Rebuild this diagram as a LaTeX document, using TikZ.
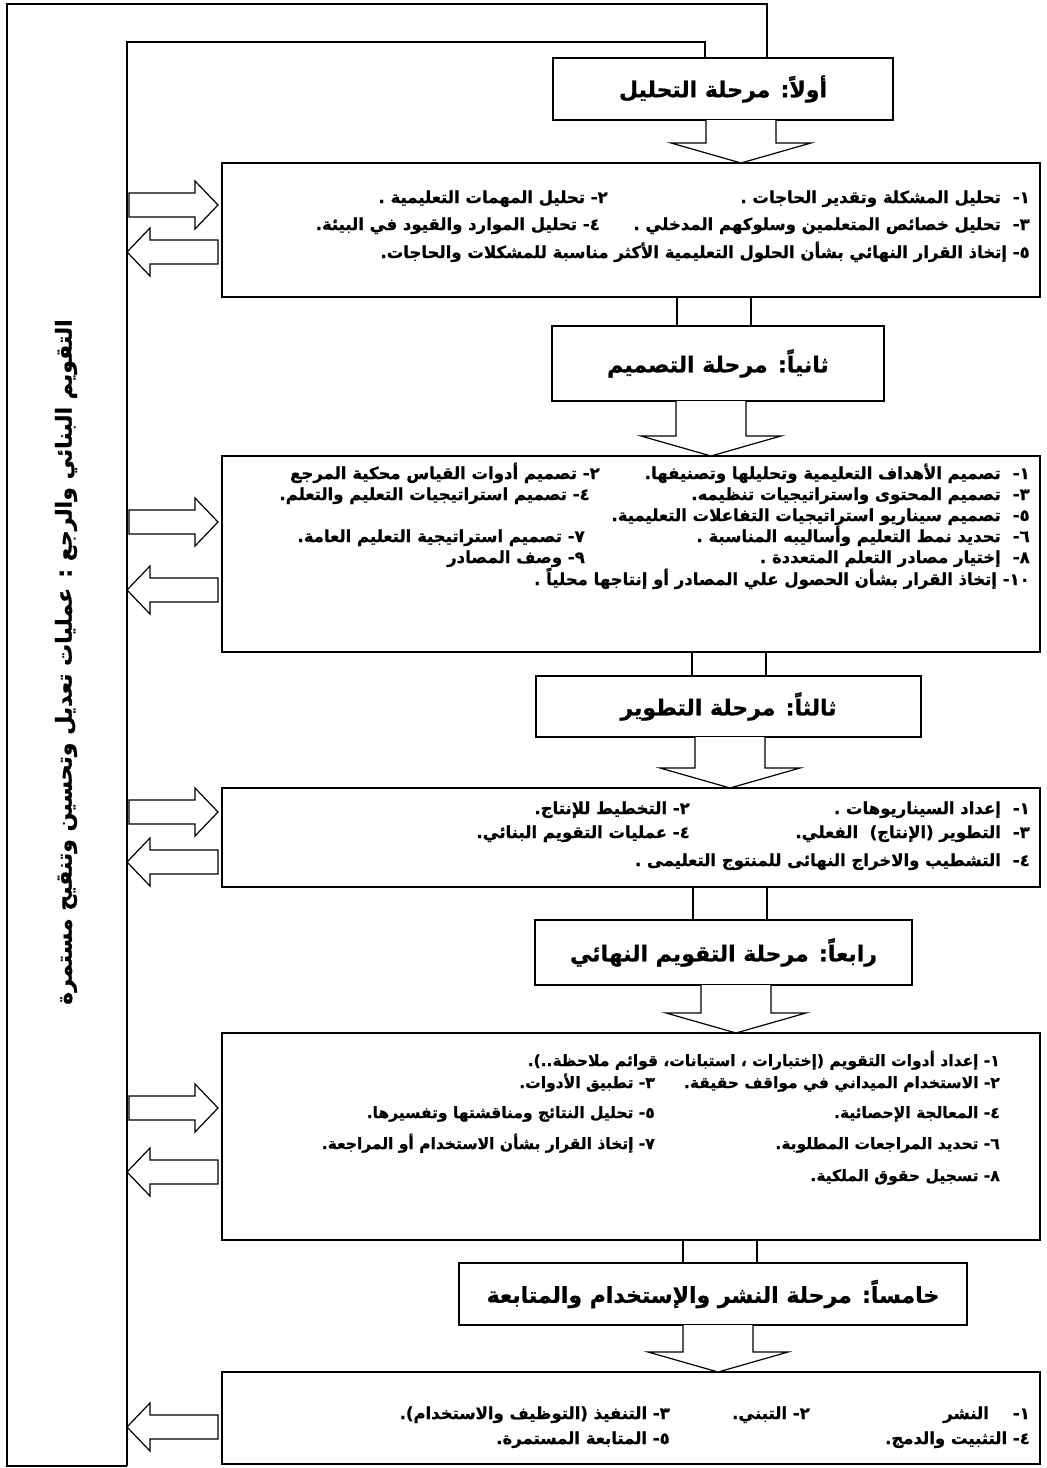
\documentclass[tikz,border=0pt]{standalone}
\usepackage{fontspec}
\newfontfamily\arabicfont[Script=Arabic, BoldFeatures={FakeBold=0.8}]{DejaVu Sans}
\TeXXeTstate=1
\usetikzlibrary{calc}
\newcommand\gp{\hspace{12pt}}
\tikzset{
  frameline/.style={line width=1.3pt},
  boxstyle/.style={draw, line width=1.6pt, fill=white, inner sep=0pt, outer sep=0pt, anchor=north west},
  hdr/.style={draw, line width=1.6pt, fill=white, inner sep=0pt, outer sep=0pt, anchor=north west,
    font=\arabicfont\bfseries\fontsize{22}{26}\selectfont},
  blk/.style={draw, line width=1.2pt, fill=white, line join=miter},
  itm/.style={anchor=base east, inner sep=0pt, font=\arabicfont\bfseries\fontsize{16.5}{19}\selectfont},
  itms/.style={itm, font=\arabicfont\bfseries\fontsize{15.5}{18}\selectfont},
  vlabel/.style={rotate=90, inner sep=0pt, font=\arabicfont\bfseries\fontsize{22}{26}\selectfont},
}
\newcommand\itm[4]{\node[itm] (#1) at (#2,#3+6) {#4};}
\newcommand\itms[4]{\node[itms] (#1) at (#2,#3+6) {#4};}
% down block arrow: top node, bottom node, x-centre coordinate
\newcommand\blkdown[3]{%
  \draw[blk] ($(#1.south -| #3)+(-35,0)$) -- ($(#2.north -| #3)+(-35,-20)$) -- ($(#2.north -| #3)+(-70,-20)$)
    -- (#2.north -| #3) -- ($(#2.north -| #3)+(70,-20)$) -- ($(#2.north -| #3)+(35,-20)$) -- ($(#1.south -| #3)+(35,0)$);}
% stem between box and next header
\newcommand\blkstem[3]{%
  \draw[blk] ($(#1.south -| #3)+(-37,0)$) rectangle ($(#2.north -| #3)+(37,0)$);}
% right-pointing block arrow from frame coordinate to box
\newcommand\blkright[2]{%
  \draw[blk] ($(#1)+(2,-12)$) -- ($(#1 -| #2.west)+(-27,-12)$) -- ($(#1 -| #2.west)+(-27,-24)$)
    -- ($(#1 -| #2.west)+(-4,0)$) -- ($(#1 -| #2.west)+(-27,24)$) -- ($(#1 -| #2.west)+(-27,12)$)
    -- ($(#1)+(2,12)$) -- cycle;}
% left-pointing block arrow from box to frame coordinate
\newcommand\blkleft[2]{%
  \draw[blk] (#1) -- ($(#1)+(23,-24)$) -- ($(#1)+(23,-12)$) -- ($(#1 -| #2.west)+(-4,-12)$)
    -- ($(#1 -| #2.west)+(-4,12)$) -- ($(#1)+(23,12)$) -- ($(#1)+(23,24)$) -- cycle;}
\begin{document}
\begin{tikzpicture}[x=1pt,y=-1pt]
\useasboundingbox (0,0) rectangle (1047,1468);
\fill[white] (0,0) rectangle (1047,1468);

% headers
\node[hdr, minimum width=340pt, minimum height=62pt] (h1) at (553,58) {\beginR أولاً: مرحلة التحليل\endR};
\node[hdr, minimum width=332pt, minimum height=75pt] (h2) at (552,326) {\beginR ثانياً: مرحلة التصميم\endR};
\node[hdr, minimum width=385pt, minimum height=61pt] (h3) at (536,676) {\beginR ثالثاً: مرحلة التطوير\endR};
\node[hdr, minimum width=377pt, minimum height=65pt] (h4) at (535,920) {\beginR رابعاً: مرحلة التقويم النهائي\endR};
\node[hdr, minimum width=508pt, minimum height=62pt] (h5) at (459,1263) {\beginR خامساً: مرحلة النشر والإستخدام والمتابعة\endR};

% content boxes
\node[boxstyle, minimum width=818pt, minimum height=134pt] (b1) at (222,163) {};
\node[boxstyle, minimum width=818pt, minimum height=196pt] (b2) at (222,456) {};
\node[boxstyle, minimum width=818pt, minimum height=99pt] (b3) at (222,788) {};
\node[boxstyle, minimum width=818pt, minimum height=207pt] (b4) at (222,1033) {};
\node[boxstyle, minimum width=818pt, minimum height=92pt] (b5) at (222,1372) {};

% frame coordinates
\coordinate (ofr) at (767,4);
\coordinate (ifr) at (705,42);
\coordinate (ol) at (7,4);
\coordinate (il) at (127,42);
\coordinate (bot) at (7,1466);

\draw[frameline] (h1.north -| ofr) -- (ofr) -- (ol) -- (bot) -- (bot -| il);
\draw[frameline] (h1.north -| ifr) -- (ifr) -- (il) -- (bot -| il);

% arrow centre x coordinates
\coordinate (c1) at (741,0);
\coordinate (c2) at (711,0);
\coordinate (c3) at (730,0);
\coordinate (c4) at (736,0);
\coordinate (c5) at (718,0);
\coordinate (s1) at (714,0);
\coordinate (s2) at (729,0);
\coordinate (s3) at (730,0);
\coordinate (s4) at (720,0);

\blkdown{h1}{b1}{c1}
\blkstem{b1}{h2}{s1}
\blkdown{h2}{b2}{c2}
\blkstem{b2}{h3}{s2}
\blkdown{h3}{b3}{c3}
\blkstem{b3}{h4}{s3}
\blkdown{h4}{b4}{c4}
\blkstem{b4}{h5}{s4}
\blkdown{h5}{b5}{c5}

% side arrows
\coordinate (r1) at (127,205);  \blkright{r1}{b1}
\coordinate (l1) at (127,252);  \blkleft{l1}{b1}
\coordinate (r2) at (127,522);  \blkright{r2}{b2}
\coordinate (l2) at (127,590);  \blkleft{l2}{b2}
\coordinate (r3) at (127,812);  \blkright{r3}{b3}
\coordinate (l3) at (127,862);  \blkleft{l3}{b3}
\coordinate (r4) at (127,1108); \blkright{r4}{b4}
\coordinate (l4) at (127,1172); \blkleft{l4}{b4}
\coordinate (l5) at (127,1427); \blkleft{l5}{b5}

% vertical label
\node[vlabel] (vl) at (66,662) {\beginR التقويم البنائي والرجع : عمليات تعديل وتحسين وتنقيح مستمرة\endR};

% box 1 text
\itm{t11}{1030}{197}{\beginR ١-\gp تحليل المشكلة وتقدير الحاجات .\endR}
\itm{t12}{608}{197}{\beginR ٢- تحليل المهمات التعليمية .\endR}
\itm{t13}{1030}{224}{\beginR ٣-\gp تحليل خصائص المتعلمين وسلوكهم المدخلي .\endR}
\itm{t14}{600}{224}{\beginR ٤- تحليل الموارد والقيود في البيئة.\endR}
\itm{t15}{1030}{252}{\beginR ٥- إتخاذ القرار النهائي بشأن الحلول التعليمية الأكثر مناسبة للمشكلات والحاجات.\endR}

% box 2 text
\itm{t21}{1030}{473}{\beginR ١-\gp تصميم الأهداف التعليمية وتحليلها وتصنيفها.\endR}
\itm{t22}{600}{473}{\beginR ٢- تصميم أدوات القياس محكية المرجع\endR}
\itm{t23}{1030}{494}{\beginR ٣-\gp تصميم المحتوى واستراتيجيات تنظيمه.\endR}
\itm{t24}{590}{494}{\beginR ٤- تصميم استراتيجيات التعليم والتعلم.\endR}
\itm{t25}{1030}{515}{\beginR ٥-\gp تصميم سيناريو استراتيجيات التفاعلات التعليمية.\endR}
\itm{t26}{1030}{536}{\beginR ٦-\gp تحديد نمط التعليم وأساليبه المناسبة .\endR}
\itm{t27}{585}{536}{\beginR ٧- تصميم استراتيجية التعليم العامة.\endR}
\itm{t28}{1030}{557}{\beginR ٨-\gp إختيار مصادر التعلم المتعددة .\endR}
\itm{t29}{585}{557}{\beginR ٩- وصف المصادر\endR}
\itm{t2a}{1030}{579}{\beginR ١٠- إتخاذ القرار بشأن الحصول علي المصادر أو إنتاجها محلياً .\endR}

% box 3 text
\itm{t31}{1030}{808}{\beginR ١-\gp إعداد السيناريوهات .\endR}
\itm{t32}{690}{808}{\beginR ٢- التخطيط للإنتاج.\endR}
\itm{t33}{1030}{832}{\beginR ٣-\gp التطوير (الإنتاج)\ \ الفعلي.\endR}
\itm{t34}{690}{832}{\beginR ٤- عمليات التقويم البنائي.\endR}
\itm{t35}{1030}{860}{\beginR ٤-\gp التشطيب والاخراج النهائى للمنتوج التعليمى .\endR}

% box 4 text
\itms{t41}{1000}{1060}{\beginR ١- إعداد أدوات التقويم (إختبارات ، استبانات، قوائم ملاحظة..).\endR}
\itms{t42}{1000}{1082}{\beginR ٢- الاستخدام الميداني في مواقف حقيقة.\endR}
\itms{t43}{655}{1082}{\beginR ٣- تطبيق الأدوات.\endR}
\itms{t44}{1000}{1112}{\beginR ٤- المعالجة الإحصائية.\endR}
\itms{t45}{655}{1112}{\beginR ٥- تحليل النتائج ومناقشتها وتفسيرها.\endR}
\itms{t46}{1000}{1143}{\beginR ٦- تحديد المراجعات المطلوبة.\endR}
\itms{t47}{655}{1143}{\beginR ٧- إتخاذ القرار بشأن الاستخدام أو المراجعة.\endR}
\itms{t48}{1000}{1175}{\beginR ٨- تسجيل حقوق الملكية.\endR}

% box 5 text
\itm{t51}{1030}{1413}{\beginR ١-\gp\gp النشر\endR}
\itm{t52}{810}{1413}{\beginR ٢- التبني.\endR}
\itm{t53}{670}{1413}{\beginR ٣- التنفيذ (التوظيف والاستخدام).\endR}
\itm{t54}{1030}{1438}{\beginR ٤- التثبيت والدمج.\endR}
\itm{t55}{670}{1438}{\beginR ٥- المتابعة المستمرة.\endR}
\end{tikzpicture}
\end{document}
